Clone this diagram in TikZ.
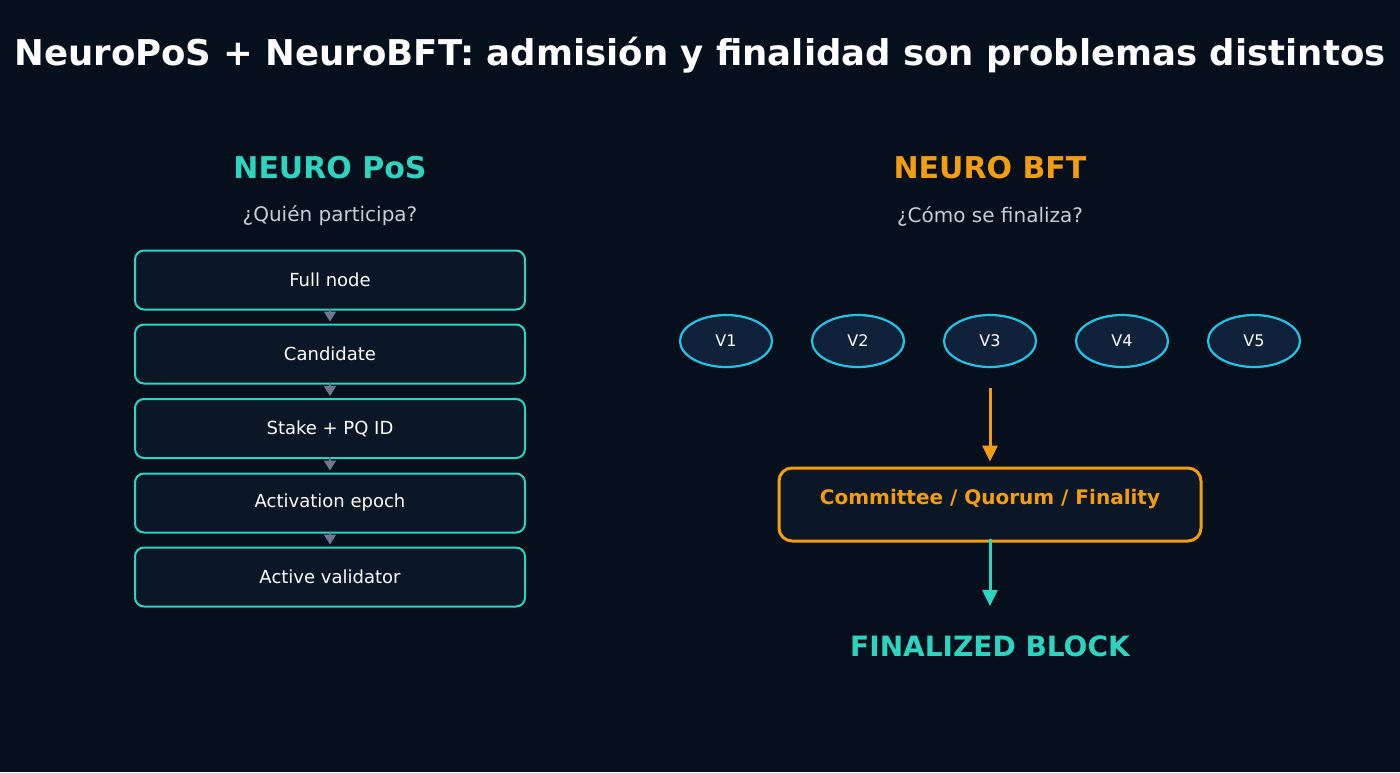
\documentclass[tikz,border=0pt]{standalone}
\usepackage{fontspec}
\setmainfont{DejaVu Sans}
\usetikzlibrary{shapes.geometric,arrows.meta}
\definecolor{bg}{HTML}{06101C}
\definecolor{teal}{HTML}{2DD4BF}
\definecolor{orng}{HTML}{F59E0B}
\definecolor{cyanv}{HTML}{22C3E6}
\definecolor{boxfill}{HTML}{0B1626}
\definecolor{ellfill}{HTML}{10223A}
\definecolor{subgray}{HTML}{C5CFDB}
\definecolor{arrgray}{HTML}{6B7A8F}
\begin{document}
\begin{tikzpicture}[x=1pt,y=-1pt,
  stepbox/.style={draw=teal,line width=2pt,fill=boxfill,rounded corners=9pt,minimum width=390pt,minimum height=59pt,inner sep=0pt,text=white,font=\fontsize{18}{21}\selectfont},
  valell/.style={ellipse,draw=cyanv,line width=2.2pt,fill=ellfill,minimum width=92pt,minimum height=52pt,inner sep=0pt,text=white,font=\fontsize{16}{19}\selectfont},
  smallarr/.style={draw=arrgray,line width=1.8pt,-{Triangle[length=10pt,width=12pt]}},
  bigarr/.style={line width=3pt,-{Triangle[length=16pt,width=15pt]}}
]
\fill[bg] (0,0) rectangle (1400,772);
\useasboundingbox (0,0) rectangle (1400,772);
\node[text=white,font=\bfseries\fontsize{35.5}{40}\selectfont] (title) at (700,55) {NeuroPoS + NeuroBFT: admisión y finalidad son problemas distintos};

\node[text=teal,font=\bfseries\fontsize{30}{34}\selectfont] (pos) at (330,168) {NEURO PoS};
\node[text=subgray,font=\fontsize{20}{23}\selectfont] (posq) at (330,216) {¿Quién participa?};

\node[stepbox] (s1) at (330,280) {Full node};
\node[stepbox] (s2) at (330,354) {Candidate};
\node[stepbox] (s3) at (330,428.5) {Stake + PQ ID};
\node[stepbox] (s4) at (330,503) {Activation epoch};
\node[stepbox] (s5) at (330,577) {Active validator};
\foreach \a/\b in {s1/s2,s2/s3,s3/s4,s4/s5}{
  \draw[smallarr] ([yshift=2pt]\a.south) -- ([yshift=2pt]\b.north);
}

\node[text=orng,font=\bfseries\fontsize{30}{34}\selectfont] (bft) at (990,168) {NEURO BFT};
\node[text=subgray,font=\fontsize{20}{23}\selectfont] (bftq) at (990,216) {¿Cómo se finaliza?};

\node[valell] (v1) at (726,341) {V1};
\node[valell] (v2) at (858,341) {V2};
\node[valell] (v3) at (990,341) {V3};
\node[valell] (v4) at (1122,341) {V4};
\node[valell] (v5) at (1254,341) {V5};

\node[draw=orng,line width=3pt,fill=boxfill,rounded corners=13pt,minimum width=422pt,minimum height=73pt,inner sep=0pt] (cq) at (990,504.5) {};
\node[text=orng,font=\bfseries\fontsize{20}{23}\selectfont] (cqt) at (990,499) {Committee / Quorum / Finality};

\node[text=teal,font=\bfseries\fontsize{28}{32}\selectfont] (fb) at (990,646) {FINALIZED BLOCK};

\coordinate (a1s) at (990,388);
\draw[bigarr,draw=orng,color=orng] (a1s) -- ([yshift=5pt]cq.north);
\coordinate (a2e) at (990,606);
\draw[bigarr,draw=teal,color=teal] ([yshift=4pt]cq.south) -- (a2e);
\end{tikzpicture}
\end{document}
